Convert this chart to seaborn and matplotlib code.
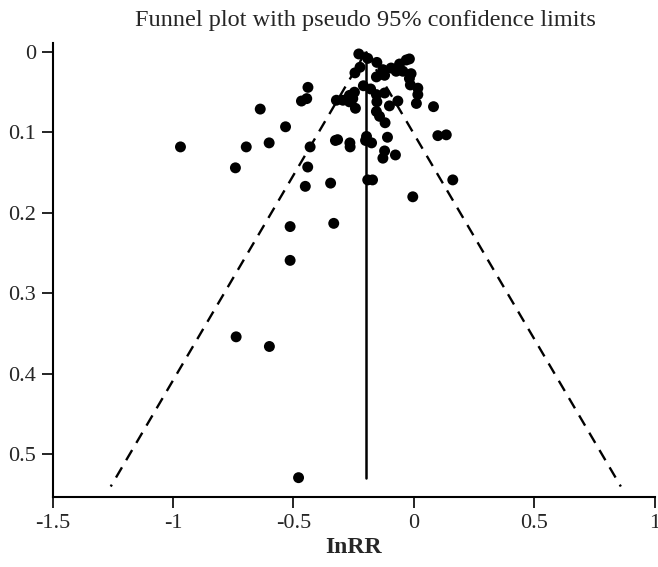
import numpy as np
import pandas as pd
import matplotlib
matplotlib.use("Agg")
import matplotlib.pyplot as plt
import seaborn as sns

# effect sizes (lnRR) and their standard errors
lnrr = [-0.229, -0.192, -0.154, -0.224, -0.245, -0.129, -0.095, -0.060, -0.032, -0.019,
        -0.074, -0.046, -0.012, -0.156, -0.122, -0.019, -0.015, 0.016, -0.210, -0.180,
        -0.122, -0.156, -0.247, -0.268, -0.254, -0.322, -0.295, -0.268, -0.243, -0.156,
        -0.154, -0.102, -0.067, 0.010, 0.016, 0.081, -0.440, -0.467, -0.445, -0.143,
        -0.120, -0.326, -0.317, -0.266, -0.265, -0.197, -0.201, -0.176, -0.110, -0.122,
        -0.129, -0.077, -0.192, -0.172, -0.969, -0.638, -0.696, -0.741, -0.601, -0.533,
        -0.431, -0.441, -0.451, -0.346, -0.514, -0.333, -0.514, -0.738, -0.600, -0.479,
        0.161, 0.099, 0.134, -0.005]
se = [0.0025, 0.008, 0.013, 0.019, 0.026, 0.022, 0.020, 0.015, 0.010, 0.0087,
      0.024, 0.024, 0.027, 0.031, 0.029, 0.033, 0.041, 0.045, 0.042, 0.046,
      0.051, 0.053, 0.050, 0.054, 0.058, 0.060, 0.060, 0.062, 0.070, 0.074,
      0.062, 0.067, 0.061, 0.064, 0.053, 0.068, 0.044, 0.061, 0.058, 0.080,
      0.088, 0.110, 0.109, 0.113, 0.118, 0.105, 0.110, 0.113, 0.106, 0.123,
      0.132, 0.128, 0.159, 0.159, 0.118, 0.071, 0.118, 0.144, 0.113, 0.093,
      0.118, 0.143, 0.167, 0.163, 0.217, 0.213, 0.259, 0.354, 0.366, 0.529,
      0.159, 0.104, 0.103, 0.180]

pooled = -0.2      # pooled estimate (vertical line)
se_line = 0.529    # vertical line reaches the largest SE
se_limit = 0.54    # pseudo 95% limits drawn down to here
x_ticks = [-1.5, -1, -0.5, 0, 0.5, 1]
y_ticks = [0, 0.1, 0.2, 0.3, 0.4, 0.5]
x_ticklabels = ["-1.5", "-1", "-0.5", "0", "0.5", "1"]
y_ticklabels = ["0", "0.1", "0.2", "0.3", "0.4", "0.5"]

df = pd.DataFrame({"lnRR": lnrr, "se": se})

sns.set_style("ticks")
plt.rcParams["font.family"] = ["Liberation Serif", "DejaVu Serif"]

fig = plt.figure(figsize=(6.58, 5.67), dpi=100)
ax = fig.add_axes([0.0798, 0.1235, 0.9156, 0.8005])

# funnel limits and pooled estimate
se_grid = np.array([0, se_limit])
funnel = pd.DataFrame({
    "x": np.concatenate([pooled - 1.96 * se_grid, pooled + 1.96 * se_grid]),
    "y": np.concatenate([se_grid, se_grid]),
    "side": ["lo", "lo", "hi", "hi"],
})
for side, sub in funnel.groupby("side"):
    ax.plot(sub["x"], sub["y"], color="black", lw=1.7, linestyle=(0, (5, 3.5)))
ax.plot([pooled, pooled], [0, se_line], color="black", lw=1.8)

sns.scatterplot(data=df, x="lnRR", y="se", ax=ax, color="black",
                s=62, edgecolor="none", legend=False, zorder=3)

ax.set_xlim(-1.5, 1)
ax.set_ylim(0.553, -0.011)
ax.set_xticks(x_ticks)
ax.set_xticklabels(x_ticklabels)
ax.set_yticks(y_ticks)
ax.set_yticklabels(y_ticklabels)
ax.tick_params(axis="both", direction="out", length=8, width=1.2,
               labelsize=16, color="black", pad=4)
for s in ["top", "right"]:
    ax.spines[s].set_visible(False)
for s in ["left", "bottom"]:
    ax.spines[s].set_linewidth(1.5)
    ax.spines[s].set_color("black")

ax.set_xlabel("InRR", fontsize=17, fontweight="bold", labelpad=3)
ax.set_ylabel("")
fig.text(0.556, 0.963, "Funnel plot with pseudo 95% confidence limits",
         ha="center", va="center", fontsize=17.5)

fig.savefig("out.png", dpi=100)
